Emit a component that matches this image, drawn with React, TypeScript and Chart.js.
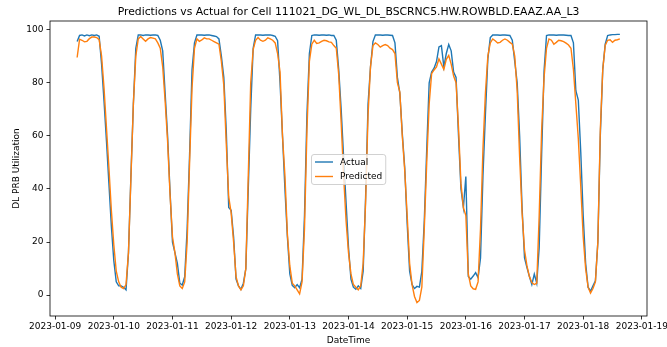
import React, { useEffect, useRef } from 'react';
import { Chart, registerables } from 'chart.js';

Chart.register(...registerables);

// ---------------- data ----------------
const TITLE = 'Predictions vs Actual for Cell 111021_DG_WL_DL_BSCRNC5.HW.ROWBLD.EAAZ.AA_L3';
const X_TITLE = 'DateTime';
const Y_TITLE = 'DL PRB Utilization';
const SERIES_NAMES = ['Actual', 'Predicted'];
const SERIES_COLORS = ['#1f77b4', '#ff7f0e'];

// hourly samples, first sample 2023-01-09 09:00 (hours counted from 2023-01-09 00:00)
const FIRST_HOUR = 9;

const dayLabels = [
  '2023-01-09', '2023-01-10', '2023-01-11', '2023-01-12', '2023-01-13', '2023-01-14',
  '2023-01-15', '2023-01-16', '2023-01-17', '2023-01-18', '2023-01-19',
];
const yTickValues = [0, 20, 40, 60, 80, 100];

const actual = [
  // 2023-01-09 09:00 - 23:00
  95.5, 97.8, 98, 97.6, 98, 97.7, 98, 97.8, 98, 97.5, 87, 73, 58, 42, 26,
  // 2023-01-10
  13, 5, 3.5, 3.5, 3, 2, 16, 45, 72, 93, 98, 98, 97.8, 98, 98, 97.9, 98, 98, 97.8, 96, 92, 76, 60, 39,
  // 2023-01-11
  20, 16, 12, 4.5, 3.8, 7, 25, 53, 85, 95, 98, 98, 98, 97.9, 98, 98, 97.8, 97.6, 97.4, 96.5, 90, 82, 62, 33,
  // 2023-01-12
  32, 22, 6, 3.5, 2.2, 4.5, 10, 40, 70, 93, 98, 98, 98, 97.9, 98, 98, 98, 97.8, 97.5, 95.8, 80, 60, 40, 22,
  // 2023-01-13
  8, 3.7, 2.8, 4, 2.8, 6, 30, 68, 91, 97.8, 98, 98, 97.9, 98, 98, 97.9, 98, 97.8, 97.8, 96, 85, 70, 52, 35,
  // 2023-01-14
  18, 6, 3, 2.2, 3.5, 2.5, 9, 37, 72, 86, 95.5, 98, 98, 98, 97.9, 98, 98, 97.9, 97.8, 95, 82, 76, 61, 48,
  // 2023-01-15
  27, 9, 4, 2.5, 3.3, 3, 9, 28, 55, 80, 84, 85.5, 88, 93.5, 94, 86, 91, 94.4, 92, 84, 82, 60, 40, 33,
  // 2023-01-16
  44.7, 7, 6, 7.2, 8.5, 6.6, 14, 45, 68, 89, 97, 98, 98, 98, 97.9, 98, 98, 97.9, 97.8, 96, 88, 80, 60, 33,
  // 2023-01-17
  14, 10.4, 7, 4, 7.9, 4.5, 18, 53, 84.6, 97.8, 98, 98, 98, 97.9, 98, 98, 98, 97.9, 97.8, 97.8, 95, 77, 73.5, 54,
  // 2023-01-18 00:00 - 15:00
  30, 12, 3, 1.5, 3.5, 5.4, 20, 60, 85, 94.5, 97.8, 98, 98.1, 98.1, 98.2, 98.2,
];

const predicted = [
  // 2023-01-09 09:00 - 23:00
  89.5, 96.4, 96, 95.4, 95.6, 96.6, 97.2, 97.2, 97, 96.2, 90, 78, 63, 48, 32,
  // 2023-01-10
  19, 9, 5, 3, 2.5, 4, 16, 44, 72, 90, 96.5, 97.4, 96.5, 95.6, 96.5, 97, 96.8, 96.5, 95, 93, 86, 73, 58, 38,
  // 2023-01-11
  22, 16, 8, 3.5, 2.5, 5, 20, 50, 78, 93, 96.5, 95.6, 96.1, 96.9, 96.5, 96.5, 96, 95.5, 95, 94.5, 88, 79, 57, 37,
  // 2023-01-12
  31, 20, 7, 3.5, 2, 3.5, 10, 45, 80, 92.5, 96, 97, 96, 95.6, 96, 96.9, 96.5, 96, 95, 91, 84, 60, 45, 23,
  // 2023-01-13
  11, 4.5, 3.5, 2, 0.5, 5, 25, 62, 88, 94.5, 96, 94.8, 95, 95.6, 96, 95.8, 95.4, 95.2, 94, 93, 83, 65, 45, 28,
  // 2023-01-14
  16, 8, 4, 3, 2, 3.5, 12, 35, 68, 86, 94, 95, 94.4, 93.4, 94, 94.4, 94, 93, 92.5, 91, 80, 76.5, 60, 47,
  // 2023-01-15
  30, 12, 4, -0.5, -2.8, -2, 3, 25, 50, 72, 83.4, 84.8, 86, 89, 87, 85, 88.8, 90.3, 87, 82.5, 80, 63, 42, 33,
  // 2023-01-16
  30, 8, 3.5, 2.4, 2.2, 5, 25, 55, 76, 90, 95, 96.5, 95.8, 95, 95.2, 96, 96.5, 96, 95.2, 94.5, 90, 77, 52, 31,
  // 2023-01-17
  17, 11, 7, 4.7, 4, 4.5, 30, 62, 82, 93, 96.5, 96, 94.5, 95.2, 96, 95.8, 95.5, 94.9, 94.2, 93, 85, 72, 59, 41,
  // 2023-01-18 00:00 - 15:00
  22, 10, 3, 0.8, 2.5, 5, 20, 62, 85, 94, 96, 96.2, 95.2, 96, 96.2, 96.5,
];

// ---------------- styling constants ----------------
const FONT = '"DejaVu Sans", "Liberation Sans", sans-serif';
const FS = 9;
const TITLE_FS = 10.8;
const W = 667;
const H = 347;

const App: React.FC = () => {
  const canvasRef = useRef<HTMLCanvasElement | null>(null);

  useEffect(() => {
    document.body.style.margin = '0';
    const canvas = canvasRef.current;
    if (!canvas) return;

    const hours = actual.map((_, i) => FIRST_HOUR + i);
    const xFirst = hours[0];
    const xLast = hours[hours.length - 1];
    const xMargin = (xLast - xFirst) * 0.05;
    const allY = actual.concat(predicted);
    const yLo = Math.min(...allY);
    const yHi = Math.max(...allY);
    const yMargin = (yHi - yLo) * 0.05;

    const mplPlugin = {
      id: 'mplDecor',
      afterDraw(chart: any) {
        const { ctx, chartArea: a } = chart;
        ctx.save();
        // frame (all four spines)
        ctx.strokeStyle = '#000';
        ctx.lineWidth = 0.8;
        ctx.strokeRect(a.left, a.top, a.right - a.left, a.bottom - a.top);

        // title
        ctx.fillStyle = '#000';
        ctx.font = `${TITLE_FS}px ${FONT}`;
        ctx.textAlign = 'center';
        ctx.textBaseline = 'alphabetic';
        ctx.fillText(TITLE, (a.left + a.right) / 2, a.top - 6);

        // legend (centre of axes)
        ctx.font = `${FS}px ${FONT}`;
        const labels = chart.data.datasets.map((d: any) => d.label);
        const textW = Math.max(...labels.map((l: string) => ctx.measureText(l).width));
        const pad = 3.5, handle = 18, gap = 7, rowH = 14.5;
        const w = pad + handle + gap + textW + pad;
        const h = 30;
        const cx = (a.left + a.right) / 2;
        const cy = (a.top + a.bottom) / 2;
        const x0 = Math.round(cx - w / 2) + 0.5;
        const y0 = Math.round(cy - h / 2) + 0.5;
        const r = 2.5;
        ctx.beginPath();
        ctx.moveTo(x0 + r, y0);
        ctx.lineTo(x0 + w - r, y0);
        ctx.quadraticCurveTo(x0 + w, y0, x0 + w, y0 + r);
        ctx.lineTo(x0 + w, y0 + h - r);
        ctx.quadraticCurveTo(x0 + w, y0 + h, x0 + w - r, y0 + h);
        ctx.lineTo(x0 + r, y0 + h);
        ctx.quadraticCurveTo(x0, y0 + h, x0, y0 + h - r);
        ctx.lineTo(x0, y0 + r);
        ctx.quadraticCurveTo(x0, y0, x0 + r, y0);
        ctx.closePath();
        ctx.fillStyle = 'rgba(255,255,255,0.8)';
        ctx.fill();
        ctx.strokeStyle = '#cccccc';
        ctx.lineWidth = 0.9;
        ctx.stroke();
        chart.data.datasets.forEach((d: any, i: number) => {
          const yy = y0 + 7.5 + i * rowH;
          ctx.strokeStyle = d.borderColor;
          ctx.lineWidth = 1.4;
          ctx.beginPath();
          ctx.moveTo(x0 + pad, yy);
          ctx.lineTo(x0 + pad + handle, yy);
          ctx.stroke();
          ctx.fillStyle = '#000';
          ctx.textAlign = 'left';
          ctx.textBaseline = 'middle';
          ctx.fillText(d.label, x0 + pad + handle + gap, yy + 0.5);
        });
        ctx.restore();
      },
    };

    const chart = new Chart(canvas, {
      type: 'line',
      data: {
        datasets: [
          {
            label: SERIES_NAMES[0],
            data: actual.map((v, i) => ({ x: hours[i], y: v })),
            borderColor: SERIES_COLORS[0],
            backgroundColor: SERIES_COLORS[0],
            borderWidth: 1.4,
            pointRadius: 0,
            tension: 0,
            fill: false,
            order: 1,
          },
          {
            label: SERIES_NAMES[1],
            data: predicted.map((v, i) => ({ x: hours[i], y: v })),
            borderColor: SERIES_COLORS[1],
            backgroundColor: SERIES_COLORS[1],
            borderWidth: 1.4,
            pointRadius: 0,
            tension: 0,
            fill: false,
            order: 0,
          },
        ],
      },
      options: {
        animation: false,
        responsive: false,
        maintainAspectRatio: false,
        devicePixelRatio: 1,
        layout: { padding: { top: 21, right: 20, left: 0, bottom: 0 } },
        plugins: {
          legend: { display: false },
          title: { display: false },
          tooltip: { enabled: false },
        },
        scales: {
          x: {
            type: 'linear',
            min: xFirst - xMargin,
            max: xLast + xMargin,
            border: { display: false },
            grid: {
              drawOnChartArea: false,
              drawTicks: true,
              tickLength: 3.5,
              color: '#000',
              lineWidth: 0.8,
            },
            ticks: {
              color: '#000',
              font: { family: FONT, size: FS },
              padding: 2,
              maxRotation: 0,
              autoSkip: false,
              callback: (v: any) => {
                const idx = Math.round(Number(v) / 24);
                return dayLabels[idx] ?? '';
              },
            },
            title: {
              display: true,
              text: X_TITLE,
              color: '#000',
              font: { family: FONT, size: FS },
              padding: { top: 0, bottom: 1 },
            },
            afterBuildTicks: (scale: any) => {
              scale.ticks = dayLabels.map((_, i) => ({ value: i * 24 }));
            },
            afterFit: (scale: any) => {
              scale.height = 31;
              scale.paddingLeft = 0;
              scale.paddingRight = 0;
            },
          },
          y: {
            type: 'linear',
            min: yLo - yMargin,
            max: yHi + yMargin,
            border: { display: false },
            grid: {
              drawOnChartArea: false,
              drawTicks: true,
              tickLength: 3.5,
              color: '#000',
              lineWidth: 0.8,
            },
            ticks: {
              color: '#000',
              font: { family: FONT, size: FS },
              padding: 3,
              callback: (v: any) => String(v),
            },
            title: {
              display: true,
              text: Y_TITLE,
              color: '#000',
              font: { family: FONT, size: FS },
              padding: { top: 11, bottom: 0 },
            },
            afterBuildTicks: (scale: any) => {
              scale.ticks = yTickValues.map((v) => ({ value: v }));
            },
            afterFit: (scale: any) => {
              scale.width = 50;
              scale.paddingTop = 0;
              scale.paddingBottom = 0;
            },
          },
        },
      } as any,
      plugins: [mplPlugin],
    });

    return () => {
      chart.destroy();
    };
  }, []);

  return (
    <div style={{ width: W, height: H, background: '#fff' }}>
      <canvas ref={canvasRef} width={W} height={H} style={{ display: 'block', width: W, height: H }} />
    </div>
  );
};

export default App;
